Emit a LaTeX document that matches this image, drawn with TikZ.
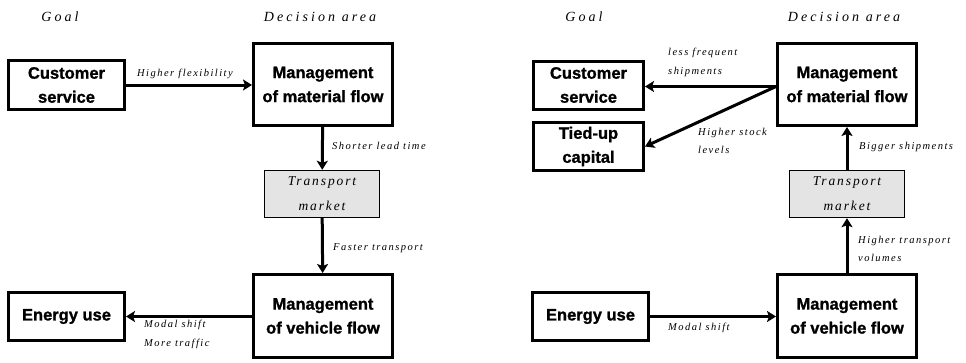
\documentclass[tikz,border=0pt]{standalone}
\usepackage{fontspec}
\setmainfont{Liberation Serif}
\newfontfamily\boxfont{Liberation Sans}[BoldFeatures={FakeBold=1.2}]
\newfontfamily\labfont{Liberation Serif}[LetterSpace=14]
\newfontfamily\headfont{Liberation Serif}[LetterSpace=22]
\usetikzlibrary{arrows.meta, positioning, calc}
\definecolor{mktgray}{HTML}{E4E4E4}

\begin{document}
\begin{tikzpicture}[x=1pt, y=-1pt,
  goalbox/.style={draw, line width=3pt, align=center, inner sep=0pt,
    font=\boxfont\bfseries\fontsize{16.5}{24}\selectfont},
  mktbox/.style={draw, line width=1.4pt, fill=mktgray, align=center, inner sep=0pt,
    minimum width=115pt, minimum height=47pt,
    font=\labfont\itshape\fontsize{13.5}{25}\selectfont},
  flow/.style={line width=3pt, -{Stealth[length=9pt, width=11pt, inset=2pt]}},
  lab/.style={anchor=west, align=left, inner sep=0pt,
    font=\labfont\itshape\fontsize{10.5}{18.5}\selectfont},
  head/.style={font=\headfont\itshape\fontsize{14}{16}\selectfont}]
  \useasboundingbox (0,0) rectangle (966,362);
  % column headers of both panels
  \foreach \dx/\nm in {0/A, 524/B} {
    \node[head] (goal\nm) at ({60+\dx},17) {Goal};
    \node[head] (dec\nm) at ({320+\dx},17) {Decision area};
  }
  % left panel
  \node[goalbox, minimum width=116pt, minimum height=49pt] (csA) at (66.5,85) {Customer\\service};
  \node[goalbox, minimum width=139pt, minimum height=82pt] (mmA) at (323,84.5) {Management\\of material flow};
  \node[mktbox] (tmA) at (322,194) {Transport\\market};
  \node[goalbox, minimum width=139pt, minimum height=83pt] (vfA) at (323,316) {Management\\of vehicle flow};
  \node[goalbox, minimum width=116pt, minimum height=48pt] (euA) at (66.5,316.5) {Energy use};
  \draw[flow] (csA) -- (mmA.west |- csA);
  \draw[flow] (mmA) -- (tmA);
  \draw[flow] (tmA) -- (vfA);
  \draw[flow] (vfA.west |- euA) -- (euA);
  \node[lab] (lhf) at (137,74) {Higher flexibility};
  \node[lab] (lsl) at (332,146) {Shorter lead time};
  \node[lab] (lft) at (333,248) {Faster transport};
  \node[lab, anchor=north west] (lms) at (144,320) {Modal shift\\More traffic};
  % right panel
  \node[goalbox, minimum width=110pt, minimum height=48pt] (csB) at (588.5,85) {Customer\\service};
  \node[goalbox, minimum width=110pt, minimum height=48pt] (tcB) at (588.5,146.5) {Tied-up\\capital};
  \node[goalbox, minimum width=139pt, minimum height=82pt] (mmB) at (847,84.5) {Management\\of material flow};
  \node[mktbox] (tmB) at (847,194) {Transport\\market};
  \node[goalbox, minimum width=139pt, minimum height=83pt] (vfB) at (847,316) {Management\\of vehicle flow};
  \node[goalbox, minimum width=116pt, minimum height=48pt] (euB) at (590.5,316.5) {Energy use};
  \coordinate (mmBout) at ($(mmB.west)+(0,2)$);
  \draw[flow] (mmBout) -- (csB.east |- mmBout);
  \draw[flow] (mmBout) -- (tcB.east);
  \draw[flow] (tmB) -- (mmB);
  \draw[flow] (vfB) -- (tmB);
  \draw[flow] (euB) -- (vfB.west |- euB);
  \node[lab, anchor=north west] (llf) at (668,48) {less frequent\\shipments};
  \node[lab, anchor=north west] (lhs) at (698,128) {Higher stock\\levels};
  \node[lab] (lbs) at (859,147) {Bigger shipments};
  \node[lab, anchor=north west] (lht) at (858,236) {Higher transport\\volumes};
  \node[lab] (lmB) at (668,328) {Modal shift};
\end{tikzpicture}
\end{document}
